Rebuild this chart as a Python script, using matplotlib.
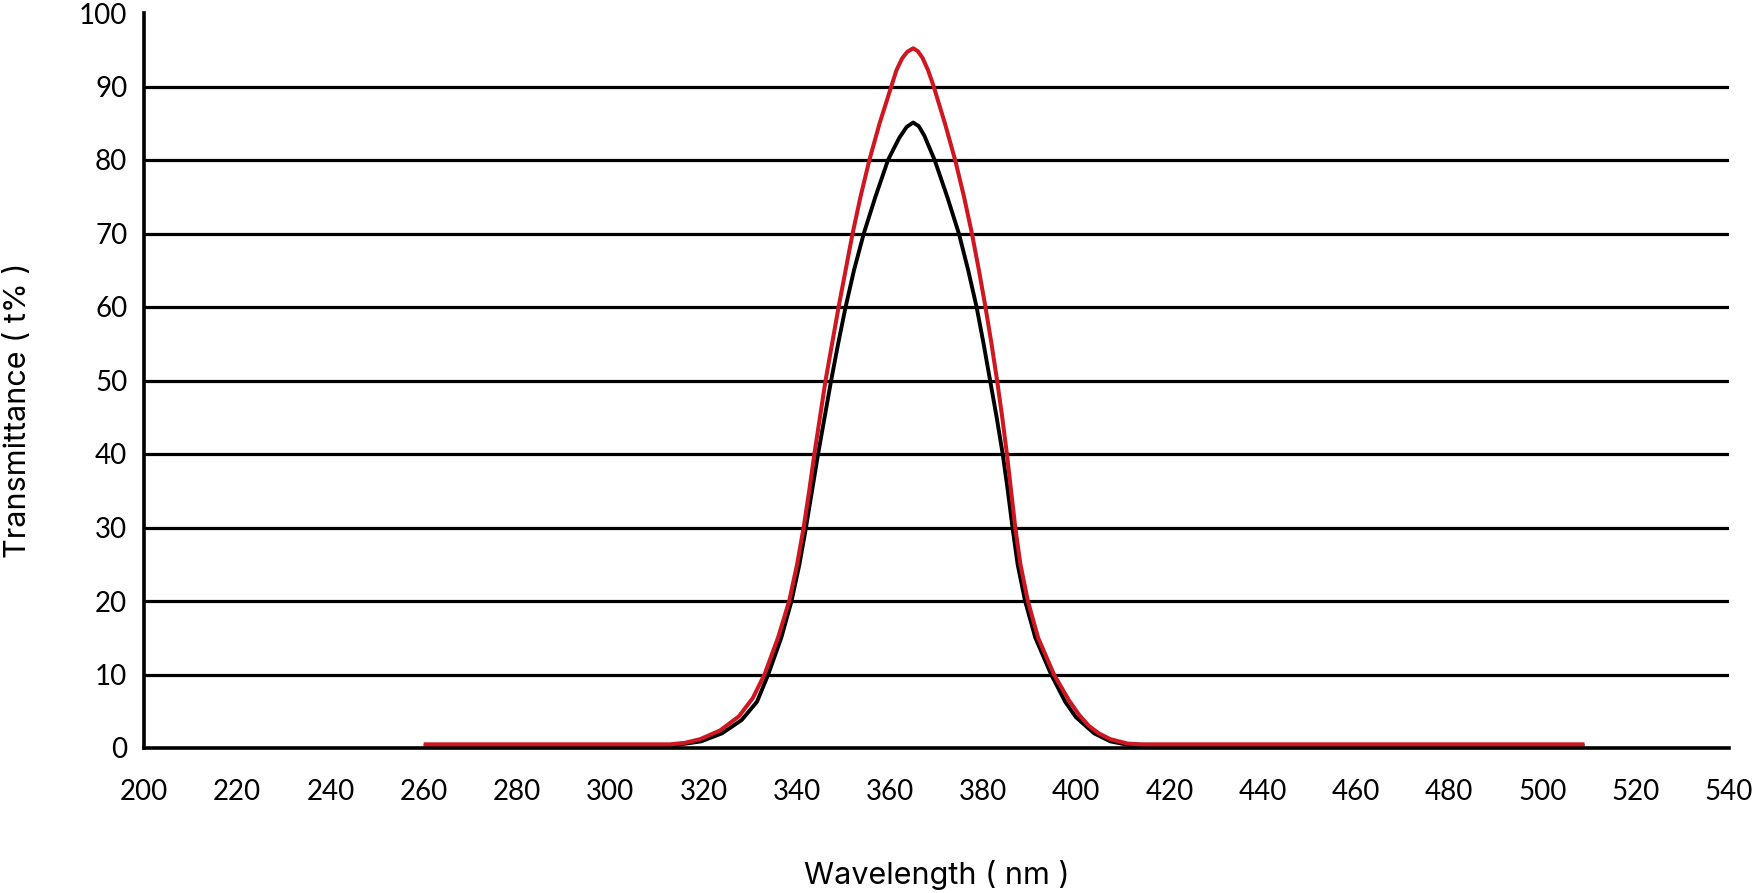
import matplotlib
matplotlib.use("Agg")
import matplotlib.pyplot as plt

plt.rcParams['font.family'] = ['Lato', 'Noto Sans CJK SC', 'DejaVu Sans']

# Data
wavelength_red = [260, 300, 312.8, 316, 319.3, 323.6, 327.6, 330.6, 333.1, 336.0, 338.4, 340.1,
                  341.5, 342.7, 343.8, 345.0, 346.2, 347.6, 349.0, 350.5, 352.0, 353.7, 355.6,
                  357.8, 360.3, 361.4, 362.6, 363.7, 365.0, 366.0, 367.0, 368.2, 369.4, 371.8,
                  374.0, 375.9, 377.6, 379.1, 380.5, 381.8, 383.0, 384.1, 385.1, 386.0, 386.9,
                  388.0, 389.6, 391.8, 395.2, 398.4, 400.6, 402.7, 404.8, 407.3, 411, 414, 509]
trans_red = [0.5, 0.5, 0.5, 0.7, 1.2, 2.4, 4.3, 6.8, 10, 15, 20, 25,
             30, 35, 40, 45, 50, 55, 60, 65, 70, 75, 80,
             85, 90, 92.2, 93.8, 94.7, 95.2, 94.8, 93.9, 92.2, 90, 85,
             80, 75, 70, 65, 60, 55, 50, 45, 40, 35, 30,
             25, 20, 15, 10, 6.5, 4.5, 3.0, 2.0, 1.2, 0.6, 0.5, 0.5]

wavelength_black = [260, 300, 313, 319.5, 324, 328.2, 331.5, 333.9, 336.7, 338.9, 340.6,
                    342.0, 343.3, 344.6, 346.0, 347.4, 348.9, 350.5, 352.3, 354.4, 356.9,
                    359.6, 362.0, 363.6, 365.0, 366.2, 367.4, 369.6, 372.3, 374.8, 376.8,
                    378.6, 380.1, 381.5, 382.9, 384.2, 385.3, 386.3, 387.4, 389.0, 391.2,
                    394.6, 397.6, 399.9, 403.8, 407.3, 411.3, 414, 509]
trans_black = [0.3, 0.3, 0.3, 0.9, 2.0, 3.8, 6.3, 10, 15, 20, 25,
               30, 35, 40, 45, 50, 55, 60, 65, 70, 75,
               80, 83, 84.5, 85.1, 84.6, 83.3, 80, 75, 70, 65,
               60, 55, 50, 45, 40, 35, 30, 25, 20, 15,
               10, 6.3, 4.2, 2.0, 0.9, 0.4, 0.3, 0.3]

x_ticks = list(range(200, 541, 20))
y_ticks = list(range(0, 101, 10))
grid_values = list(range(10, 91, 10))

fig = plt.figure(figsize=(17.55, 8.93), dpi=100)
ax = fig.add_axes([144 / 1755, 1 - 748 / 893, (1729 - 144) / 1755, (748 - 13) / 893])

for g in grid_values:
    ax.axhline(g, color='black', linewidth=2.3, zorder=1)

ax.plot(wavelength_black, trans_black, color='black', linewidth=2.8, zorder=3,
        solid_joinstyle='round', solid_capstyle='butt')
ax.plot(wavelength_red, trans_red, color='#cf1722', linewidth=2.9, zorder=4,
        solid_joinstyle='round', solid_capstyle='butt')

ax.set_xlim(200, 540)
ax.set_ylim(0, 100)
ax.set_xticks(x_ticks)
ax.set_yticks(y_ticks)
ax.set_xticklabels([str(v) for v in x_ticks])
ax.set_yticklabels([str(v) for v in y_ticks])
ax.tick_params(axis='both', length=0, labelsize=20, colors='black')
ax.tick_params(axis='y', pad=12)
ax.tick_params(axis='x', pad=22)

for s in ['top', 'right']:
    ax.spines[s].set_visible(False)
for s in ['left', 'bottom']:
    ax.spines[s].set_linewidth(2.6)
    ax.spines[s].set_color('black')
    ax.spines[s].set_zorder(2)

label_font = ['Inter', 'Lato', 'DejaVu Sans']
fig.text(936.5 / 1755, 1 - 875 / 893, 'Wavelength ( nm )', ha='center', va='center',
         fontsize=22, family=label_font)
fig.text(18 / 1755, 1 - 410 / 893, 'Transmittance ( t% )', ha='center', va='center',
         rotation=90, fontsize=22, family=label_font)

fig.savefig('out.png', dpi=100)
